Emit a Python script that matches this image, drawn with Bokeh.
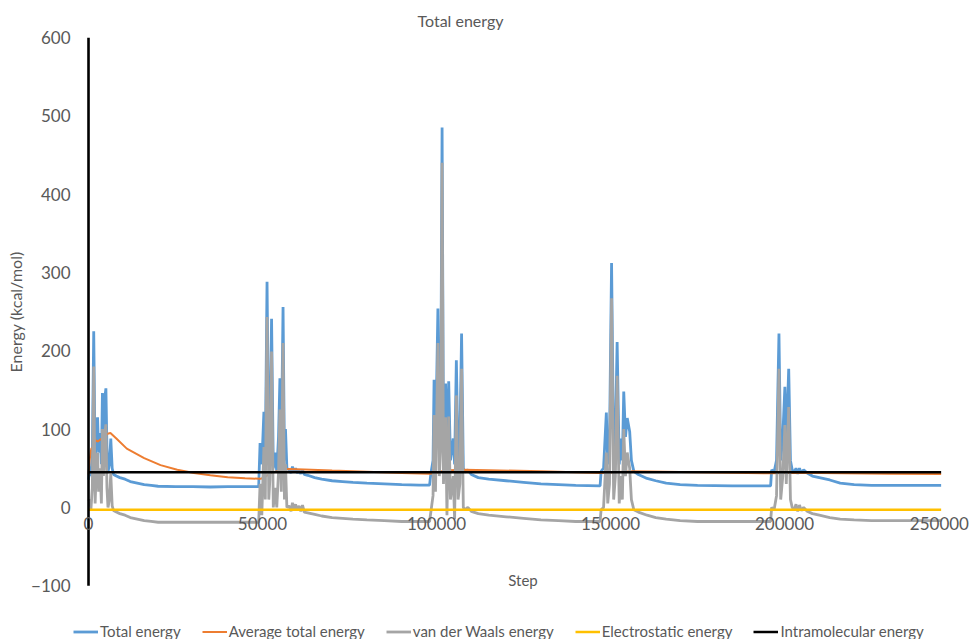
from bokeh.plotting import figure
from bokeh.models import Range1d, FixedTicker, Legend, LegendItem, Title
from bokeh.embed import file_html
from bokeh.resources import INLINE

# ---------------- data ----------------
steps = [0, 300, 700, 1100, 1500, 1900, 2300, 2600, 2900, 3300, 3700, 4000, 4300, 4700, 5000,
         5300, 5600, 6000, 6400, 6800, 7200, 8000, 9000, 10500, 12000, 14000, 16000, 18000,
         20000, 25000, 30000, 35000, 40000, 45000, 48900,
         49300, 49800, 50400, 50800, 51300, 51800, 52100, 52600, 53100, 53600, 54100, 54600,
         55000, 55400, 55900, 56300, 56600, 57000, 57600, 58200, 58600, 59000, 59500, 60000,
         60500, 61000, 61500, 62000, 63000, 65000, 67000, 70000, 73000, 76000, 80000, 85000,
         90000, 95000, 98000,
         98400, 99000, 99300, 99700, 100400, 100800, 101200, 101600, 102000, 102600, 103000,
         103500, 104000, 104800, 105200, 105700, 106200, 106700, 107200, 107700, 108200,
         109000, 110000, 112000, 115000, 120000, 125000, 130000, 135000, 140000, 147000,
         147300, 148000, 148800, 149200, 149700, 150300, 150900, 151400, 151900, 152500,
         153000, 153400, 153800, 154300, 154800, 155500, 156000, 156700, 158000, 160500,
         163000, 166000, 170000, 175000, 185000, 196000,
         196300, 197000, 197700, 198400, 198900, 199500, 200100, 200500, 201200, 201700,
         202200, 202800, 203300, 203800, 204300, 204800, 205500, 206500, 208000, 210000,
         213000, 216000, 220000, 225000, 235000, 245000]

total_energy = [35, 52, 40, 70, 225, 55, 100, 115, 70, 95, 55, 146, 85, 140, 152,
                75, 45, 55, 88, 50, 42, 40, 38, 36, 33, 31, 29, 28,
                27, 26.5, 26.5, 26, 26.5, 26.5, 26.5,
                82, 55, 122, 60, 288, 60, 80, 241, 50, 70, 45, 90,
                165, 70, 256, 60, 100, 50, 48, 44, 52, 45, 50, 44,
                47, 43, 48, 42, 41, 38, 36, 34, 33, 32, 31, 30,
                29, 28.5, 28.5,
                44, 60, 163, 70, 254, 90, 120, 485, 80, 158, 70,
                161, 60, 88, 55, 188, 60, 80, 222, 50, 45,
                48, 42, 38, 36, 34, 32, 30, 29, 28, 27.5,
                46, 50, 121, 55, 80, 312, 60, 90, 211, 55,
                88, 60, 148, 90, 114, 97, 60, 46, 42, 37,
                34, 31, 29, 28, 27.5, 27.5,
                48, 45, 60, 222, 60, 90, 154, 80, 177, 60,
                48, 45, 50, 43, 50, 44, 48, 44, 40, 38,
                35, 31, 29, 28, 28, 28]

vdw_energy = [8, 10, -2, 25, 180, 5, 55, 70, 20, 50, 5, 100, 40, 95, 106,
              25, 0, 10, 43, 2, -4, -6, -8, -10, -13, -15, -17, -18,
              -19, -19, -19, -19, -19, -19, -19,
              30, -10, 77, 10, 243, 10, 35, 199, 0, 25, 0, 45,
              125, 20, 210, 10, 55, 0, 2, -5, 6, -3, 4, -4,
              2, -5, 3, -6, -7, -9, -11, -13, -14, -15, -16, -17,
              -18, -18, -18,
              -5, 15, 118, 20, 210, 40, 75, 440, 30, 115, -10,
              116, 10, 40, -15, 143, 10, 30, 177, 0, -3,
              0, -5, -8, -10, -12, -14, -16, -17, -18, -18,
              -3, 0, 70, 5, 30, 267, 10, 40, 168, 5,
              40, 10, 100, 40, 70, 50, 10, -3, -6, -10,
              -13, -15, -17, -18, -18, -18,
              0, -3, 15, 177, 10, 40, 105, 30, 128, 10,
              0, -3, 4, -5, 3, -4, 0, -5, -8, -10,
              -13, -15, -16, -17, -17, -17]

avg_steps = [0, 300, 800, 1500, 2000, 2700, 3500, 4500, 5500, 6300, 8000, 11000, 16000,
             20700, 25500, 30300, 35000, 40000, 45000, 49500, 51000, 52500, 55000, 57500,
             62000, 70000, 80000, 90000, 98000, 100000, 102000, 108000, 115000, 130000,
             147000, 151000, 156000, 165000, 180000, 196000, 201000, 210000, 230000, 245000]
avg_total_energy = [42, 60, 75, 78, 86, 84, 87, 90, 94, 95, 88, 75, 63,
                    54, 48, 44, 41, 38.6, 37.2, 36.5, 40, 44, 47, 49,
                    48.5, 47, 45.5, 44, 43, 44, 47, 48, 47.5, 46,
                    44, 45, 46, 45.5, 44.5, 43.5, 44, 44, 43, 42.5]

const_steps = [0, 245000]
electrostatic_energy = [-3, -3]
intramolecular_energy = [45, 45]

y_ticks = [-100, 0, 100, 200, 300, 400, 500, 600]
x_ticks = [0, 50000, 100000, 150000, 200000, 250000]
x_tick_labels = ["0", "50000", "100000", "150000", "200000", "250000"]

series_names = ["Total energy", "Average total energy", "van der Waals energy",
                "Electrostatic energy", "Intramolecular energy"]
colors = ["#5B9BD5", "#ED7D31", "#A5A5A5", "#FFC000", "#000000"]

FONT = "Lato"
GRAY_TXT = "#595959"

# ---------------- figure ----------------
# the frame runs down to the page foot so that the legend can sit inside it
p = figure(width=973, height=639, output_backend="svg", toolbar_location=None,
           x_range=Range1d(-4600, 254300), y_range=Range1d(-168.7, 600),
           min_border_left=72, min_border_right=0, min_border_top=35, min_border_bottom=0)
p.outline_line_color = None
p.xgrid.visible = False
p.ygrid.visible = False

p.title.text = "Total energy"
p.title.text_font = FONT
p.title.text_font_size = "16px"
p.title.text_font_style = "normal"
p.title.text_color = GRAY_TXT
p.title.align = "left"
p.title.offset = 345
p.title.standoff = 16

r_total = p.line(steps, total_energy, line_color=colors[0], line_width=2.8)
r_avg = p.line(avg_steps, avg_total_energy, line_color=colors[1], line_width=2)
r_vdw = p.line(steps, vdw_energy, line_color=colors[2], line_width=2.8)
r_el = p.line(const_steps, electrostatic_energy, line_color=colors[3], line_width=2.5)
r_in = p.line(const_steps, intramolecular_energy, line_color=colors[4], line_width=2.5)

# vertical axis line at step 0, from the lowest to the highest y tick
p.segment(x0=[x_ticks[0]], y0=[min(y_ticks)], x1=[x_ticks[0]], y1=[max(y_ticks)],
          line_color="black", line_width=2.6)

# y axis (labels in the left panel)
ya = p.yaxis[0]
ya.ticker = FixedTicker(ticks=y_ticks)
ya.axis_line_color = None
ya.major_tick_line_color = None
ya.minor_tick_line_color = None
ya.major_tick_out = 0
ya.major_tick_in = 0
ya.major_label_text_font = FONT
ya.major_label_text_font_size = "17px"
ya.major_label_text_color = GRAY_TXT
ya.major_label_standoff = 2

# y axis title, placed beside the -100..600 span
p.add_layout(Title(text="Energy (kcal/mol)", align="left", offset=267,
                   text_font=FONT, text_font_size="16px", text_font_style="normal",
                   text_color=GRAY_TXT, standoff=7), "left")

# x axis crossing at y = 0; last label pulled inside like the reference
label_pos = x_ticks[:-1] + [x_ticks[-1] - 5500]
xa = p.xaxis[0]
xa.fixed_location = 0
xa.ticker = FixedTicker(ticks=label_pos)
xa.major_label_overrides = {pos: lab for pos, lab in zip(label_pos, x_tick_labels)}
xa.axis_line_color = None
xa.major_tick_line_color = None
xa.minor_tick_line_color = None
xa.major_tick_out = 0
xa.major_tick_in = 0
xa.major_label_text_font = FONT
xa.major_label_text_font_size = "17px"
xa.major_label_text_color = GRAY_TXT
xa.major_label_standoff = 10
xa.axis_label = "Step"
xa.axis_label_text_font = FONT
xa.axis_label_text_font_size = "15px"
xa.axis_label_text_font_style = "normal"
xa.axis_label_text_color = GRAY_TXT
xa.axis_label_standoff = 37

legend = Legend(items=[LegendItem(label=n, renderers=[r]) for n, r in
                       zip(series_names, [r_total, r_avg, r_vdw, r_el, r_in])],
                orientation="horizontal", location=(1, -1),
                border_line_color=None, background_fill_alpha=0,
                label_text_font=FONT, label_text_font_size="15px",
                label_text_color=GRAY_TXT, glyph_width=25, glyph_height=15,
                label_height=15, label_standoff=2, spacing=21, padding=0, margin=0)
p.add_layout(legend, "center")

open("out.html", "w").write(file_html(p, INLINE))
